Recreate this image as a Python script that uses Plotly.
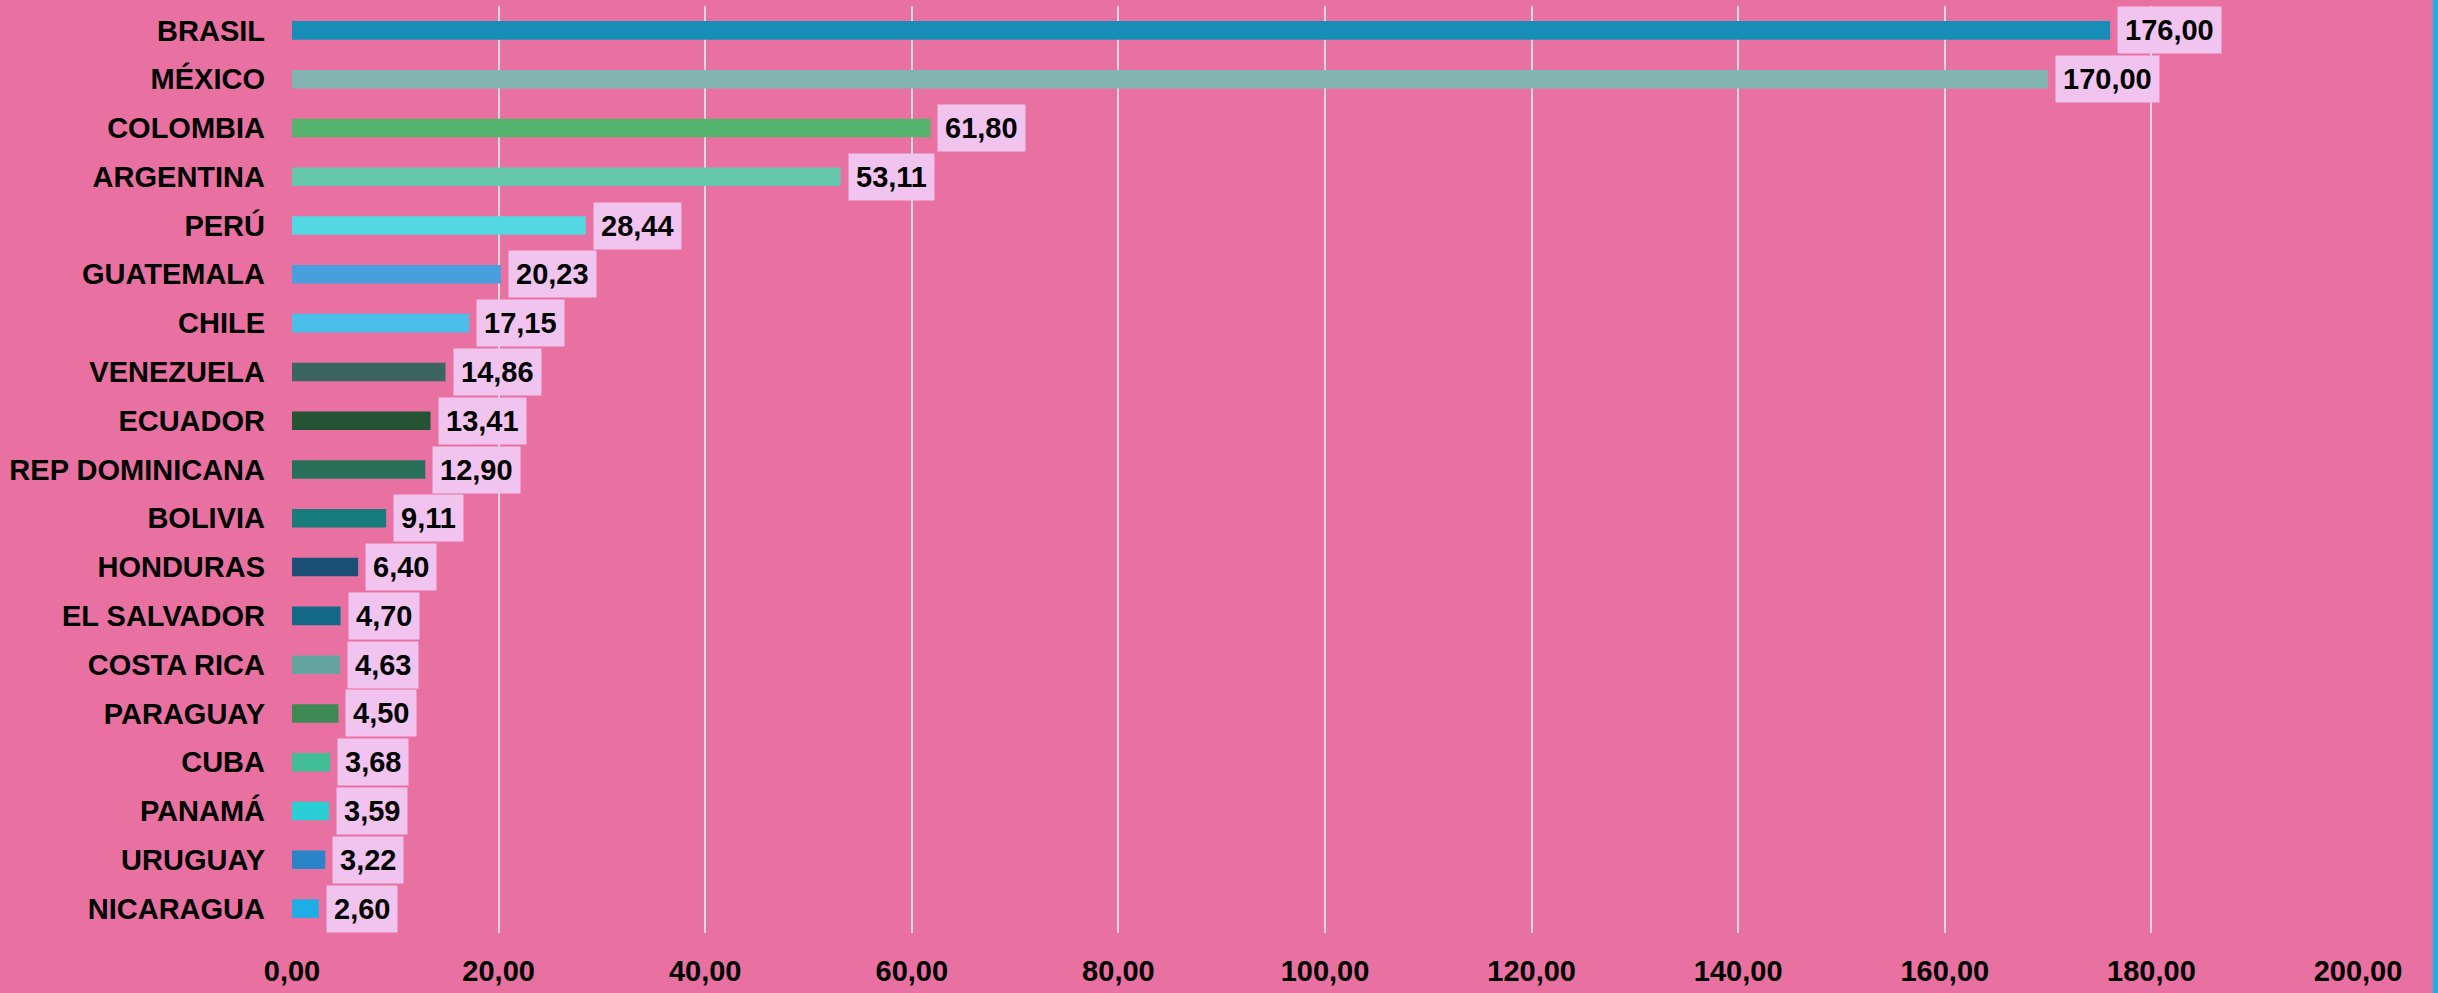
import plotly.graph_objects as go

countries = ["BRASIL", "MÉXICO", "COLOMBIA", "ARGENTINA", "PERÚ", "GUATEMALA", "CHILE",
             "VENEZUELA", "ECUADOR", "REP DOMINICANA", "BOLIVIA", "HONDURAS", "EL SALVADOR",
             "COSTA RICA", "PARAGUAY", "CUBA", "PANAMÁ", "URUGUAY", "NICARAGUA"]
values = [176.00, 170.00, 61.80, 53.11, 28.44, 20.23, 17.15, 14.86, 13.41, 12.90,
          9.11, 6.40, 4.70, 4.63, 4.50, 3.68, 3.59, 3.22, 2.60]
bar_colors = ["#188DB8", "#82B5B1", "#55B36F", "#65C8AA", "#52D8E0", "#489FDD", "#4ABEE9",
              "#3B6560", "#255434", "#29705B", "#187C7C", "#1B4F75", "#126886",
              "#64A5A1", "#3D8A55", "#42BE97", "#2ACFD6", "#2A85C8", "#1EADE4"]
tick_vals = [0, 20, 40, 60, 80, 100, 120, 140, 160, 180, 200]
tick_text = ["0,00", "20,00", "40,00", "60,00", "80,00", "100,00", "120,00",
             "140,00", "160,00", "180,00", "200,00"]

def fmt(v):
    return f"{v:.2f}".replace(".", ",")

FONT = "Liberation Sans, Arial, sans-serif"
BG = "#E971A1"

fig = go.Figure()
fig.add_trace(go.Bar(
    x=values, y=countries, orientation="h",
    marker=dict(color=bar_colors, line=dict(width=0)),
    width=0.38, hoverinfo="x+y",
))

for c, v in zip(countries, values):
    fig.add_annotation(
        x=v, y=c, xref="x", yref="y", text=fmt(v), showarrow=False,
        xanchor="left", yanchor="middle", xshift=7,
        bgcolor="#F1C4F0", borderpad=7,
        font=dict(family=FONT, size=29, color="#000000", weight="bold"),
    )

# thin frame strip at right edge
fig.add_shape(type="rect", xref="paper", yref="paper",
              x0=1.0363, x1=1.04, y0=-0.07, y1=1.01,
              fillcolor="#1DAEE5", line=dict(width=0), layer="above")

fig.update_layout(
    width=2438, height=993,
    margin=dict(l=292, r=80, t=6, b=56),
    paper_bgcolor=BG, plot_bgcolor=BG,
    showlegend=False,
    font=dict(family=FONT, size=29, color="#000000", weight="bold"),
    xaxis=dict(
        range=[0, 200], tickvals=tick_vals, ticktext=tick_text,
        showgrid=True, gridcolor="#D9D9D9", gridwidth=2,
        zeroline=False, showline=False, ticks="",
        ticklabelstandoff=18,
        tickfont=dict(family=FONT, size=29, color="#000000", weight="bold"),
        fixedrange=True,
    ),
    yaxis=dict(
        categoryorder="array", categoryarray=countries, autorange="reversed",
        showgrid=False, zeroline=False, showline=False, ticks="",
        ticklabelstandoff=26,
        tickfont=dict(family=FONT, size=29, color="#000000", weight="bold"),
        fixedrange=True,
    ),
)

fig.write_html(
    "out.html",
    config={"displayModeBar": False},
    post_script="document.body.style.margin='0';document.body.style.overflow='hidden';"
                "document.body.style.background='" + BG + "';",
)
